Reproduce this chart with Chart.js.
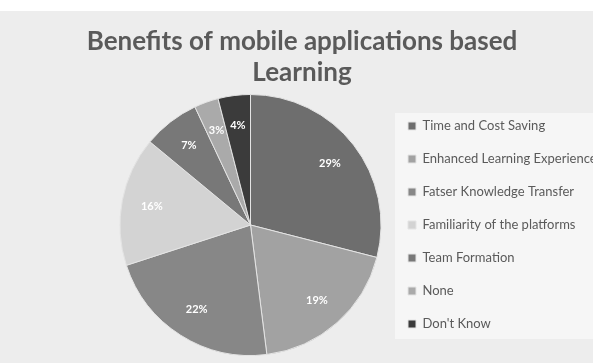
<!DOCTYPE html>
<html>
<head>
<meta charset="utf-8">
<script src="https://cdn.jsdelivr.net/npm/chart.js@4.4.1/dist/chart.umd.min.js"></script>
<style>
    body { margin: 0; background: #ffffff; }
    #wrap { width: 593px; height: 363px; }
</style>
</head>
<body>
<div id="wrap"><canvas id="benefitsChart" width="593" height="363"></canvas></div>
<script>
// data
var categories = [
    'Time and Cost Saving',
    'Enhanced Learning Experience',
    'Fatser Knowledge Transfer',
    'Familiarity of the platforms',
    'Team Formation',
    'None',
    "Don't Know"
];
var shares = [29, 19, 22, 16, 7, 3, 4];
var sliceColors = ['#6e6e6e', '#a2a2a2', '#878787', '#d3d3d3', '#787878', '#aaaaaa', '#3b3b3b'];
var titleLines = ['Benefits of mobile applications based', 'Learning'];

// background + title drawn behind the chart
var backdrop = {
    id: 'backdrop',
    beforeDraw: function(chart) {
        var ctx = chart.ctx;
        ctx.save();
        ctx.fillStyle = '#ffffff';
        ctx.fillRect(0, 0, chart.width, chart.height);
        ctx.fillStyle = '#ededed';
        ctx.fillRect(0, 11, chart.width, chart.height - 11);
        // lighter legend panel
        ctx.fillStyle = '#f6f6f6';
        ctx.fillRect(395, 113, chart.width - 395, 226);
        // title
        ctx.fillStyle = '#5a5a5a';
        ctx.font = 'bold 26px Lato';
        ctx.textAlign = 'center';
        ctx.textBaseline = 'middle';
        ctx.fillText(titleLines[0], 302, 42);
        ctx.fillText(titleLines[1], 302, 73);
        ctx.restore();
    }
};

// percentage labels inside slices
var sliceLabels = {
    id: 'sliceLabels',
    afterDatasetsDraw: function(chart) {
        var ctx = chart.ctx;
        var meta = chart.getDatasetMeta(0);
        ctx.save();
        ctx.fillStyle = '#ffffff';
        ctx.font = 'bold 11px Lato';
        ctx.textAlign = 'center';
        ctx.textBaseline = 'middle';
        meta.data.forEach(function(arc, i) {
            var mid = (arc.startAngle + arc.endAngle) / 2;
            var r = arc.outerRadius * 0.77;
            ctx.fillText(shares[i] + '%', arc.x + Math.cos(mid) * r, arc.y + Math.sin(mid) * r);
        });
        ctx.restore();
    }
};

var ctx = document.getElementById('benefitsChart').getContext('2d');
var benefitsChart = new Chart(ctx, {
    type: 'pie',
    data: {
        labels: categories,
        datasets: [{
            data: shares,
            backgroundColor: sliceColors,
            borderColor: '#e4e4e4',
            borderWidth: 1
        }]
    },
    options: {
        responsive: false,
        animation: false,
        events: [],
        layout: {
            padding: { top: 94, bottom: 7, left: 113, right: 0 }
        },
        plugins: {
            title: { display: false },
            tooltip: { enabled: false },
            legend: {
                position: 'right',
                maxWidth: 205,
                labels: {
                    boxWidth: 8,
                    boxHeight: 8,
                    padding: 20,
                    color: '#5a5a5a',
                    font: { family: 'Lato', size: 13 }
                }
            }
        }
    },
    plugins: [backdrop, sliceLabels]
});
</script>
</body>
</html>
